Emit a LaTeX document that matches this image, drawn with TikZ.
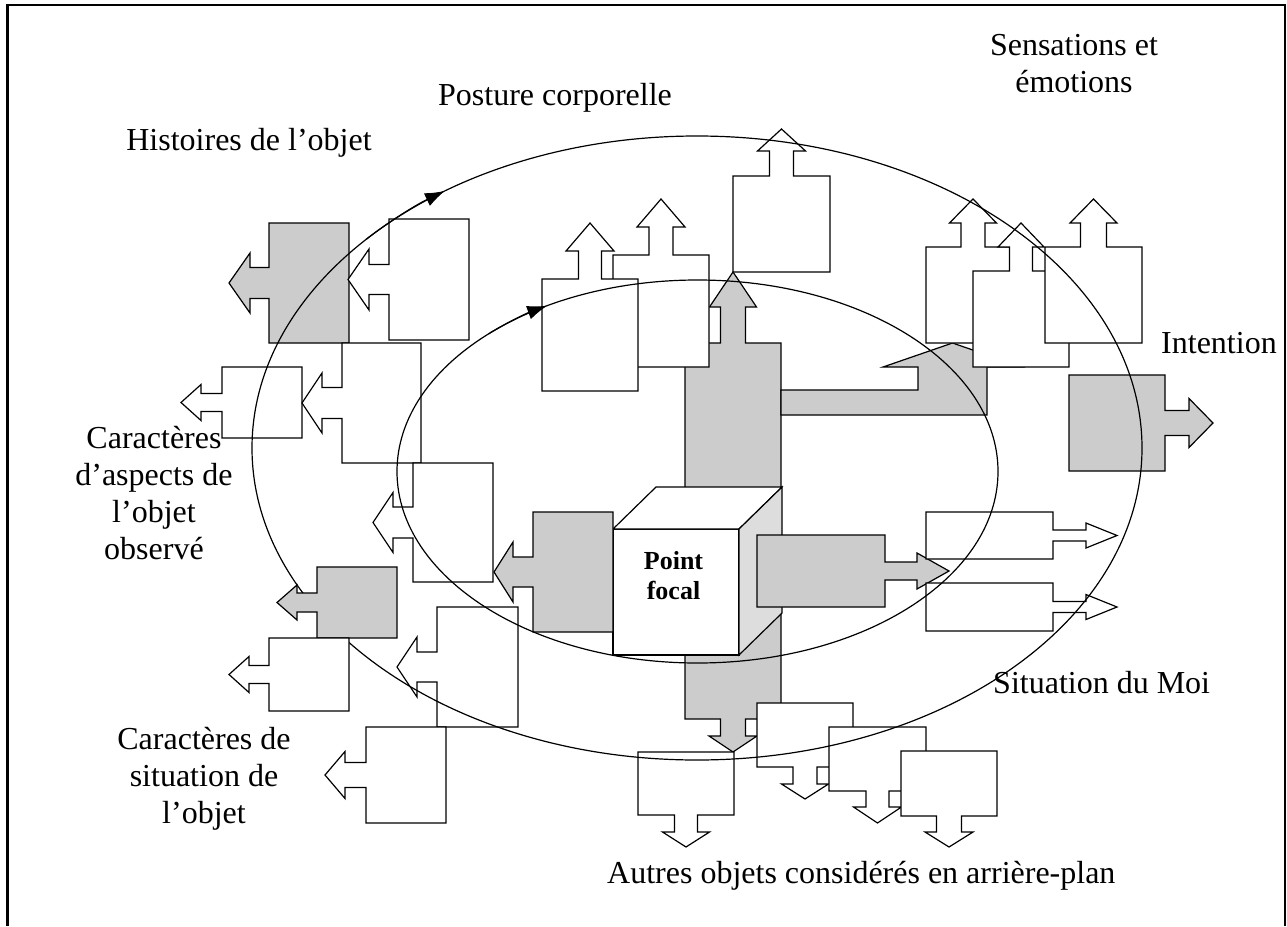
\documentclass[tikz,border=0pt]{standalone}
\usepackage{fontspec}
\setmainfont{Liberation Serif}
\usetikzlibrary{arrows.meta}

\definecolor{boxgray}{RGB}{204,204,204}
\definecolor{sidegray}{RGB}{221,221,221}

% Block arrows: #1 style, body (#2,#3)-(#4,#5), neck length #6, neck half width #7,
% head length #8, head half width #9. The arrow sits on the middle of one side.
\newcommand\blkL[9]{\path[#1] (#2,#3) -- (#4,#3) -- (#4,#5) -- (#2,#5)
  -- (#2,{(#3+#5)/2+#7}) -- ({#2-#6},{(#3+#5)/2+#7}) -- ({#2-#6},{(#3+#5)/2+#9})
  -- ({#2-#6-#8},{(#3+#5)/2}) -- ({#2-#6},{(#3+#5)/2-#9}) -- ({#2-#6},{(#3+#5)/2-#7})
  -- (#2,{(#3+#5)/2-#7}) -- cycle;}
\newcommand\blkR[9]{\path[#1] (#2,#3) -- (#4,#3)
  -- (#4,{(#3+#5)/2-#7}) -- ({#4+#6},{(#3+#5)/2-#7}) -- ({#4+#6},{(#3+#5)/2-#9})
  -- ({#4+#6+#8},{(#3+#5)/2}) -- ({#4+#6},{(#3+#5)/2+#9}) -- ({#4+#6},{(#3+#5)/2+#7})
  -- (#4,{(#3+#5)/2+#7}) -- (#4,#5) -- (#2,#5) -- cycle;}
\newcommand\blkU[9]{\path[#1] (#2,#5) -- (#2,#3)
  -- ({(#2+#4)/2-#7},#3) -- ({(#2+#4)/2-#7},{#3-#6}) -- ({(#2+#4)/2-#9},{#3-#6})
  -- ({(#2+#4)/2},{#3-#6-#8}) -- ({(#2+#4)/2+#9},{#3-#6}) -- ({(#2+#4)/2+#7},{#3-#6})
  -- ({(#2+#4)/2+#7},#3) -- (#4,#3) -- (#4,#5) -- cycle;}
\newcommand\blkD[9]{\path[#1] (#2,#3) -- (#4,#3) -- (#4,#5)
  -- ({(#2+#4)/2+#7},#5) -- ({(#2+#4)/2+#7},{#5+#6}) -- ({(#2+#4)/2+#9},{#5+#6})
  -- ({(#2+#4)/2},{#5+#6+#8}) -- ({(#2+#4)/2-#9},{#5+#6}) -- ({(#2+#4)/2-#7},{#5+#6})
  -- ({(#2+#4)/2-#7},#5) -- (#2,#5) -- cycle;}

\tikzset{
  shp/.style={draw=black, line width=1.2pt, line join=miter},
  wbox/.style={shp, fill=white},
  gbox/.style={shp, fill=boxgray},
  orbit/.style={draw=black, line width=1.2pt},
  orbittip/.style={orbit, -{Latex[length=20pt,width=14pt]}},
  lbl/.style={font=\fontsize{32}{37}\selectfont, inner sep=0pt, anchor=base},
  lblw/.style={lbl, anchor=base west},
  focallbl/.style={font=\fontsize{26}{30}\selectfont\bfseries, inner sep=0pt, anchor=base},
}

\begin{document}
\begin{tikzpicture}[x=1pt,y=-1pt]
\useasboundingbox (0,0) rectangle (1287,926);
\fill[white] (0,0) rectangle (1287,926);

% page frame, open at the bottom
\draw[line width=2.5pt] (7.5,926) -- (7.5,5) -- (1285,5) -- (1285,926);

% central vertical gray double arrow
\path[gbox] (685,343) -- (720.5,343) -- (720.5,307) -- (709.5,307) -- (733,272)
  -- (756.5,307) -- (745.5,307) -- (745.5,343) -- (781,343) -- (781,719)
  -- (745.5,719) -- (745.5,736) -- (757,736) -- (733,752) -- (709,736)
  -- (720.5,736) -- (720.5,719) -- (685,719) -- cycle;

% bent-up gray arrow towards the sensations
\path[gbox] (781,390) -- (918,390) -- (918,367) -- (883,367) -- (952.5,343)
  -- (1022,367) -- (987,367) -- (987,415) -- (781,415) -- cycle;

% posture corporelle
\blkU{wbox}{733}{176}{830}{272}{25}{12}{22}{24}
\blkU{wbox}{613}{255}{709}{367}{28}{12}{28}{24}
\blkU{wbox}{542}{279}{638}{391}{28}{11.5}{28}{24}

% sensations et emotions
\blkU{wbox}{926}{247}{1020}{343}{24}{12}{24}{23.5}
\blkU{wbox}{973}{271}{1069}{367}{24}{11.5}{24}{23}
\blkU{wbox}{1045}{247}{1142}{343}{24}{13}{24}{23.5}

% intention
\blkR{gbox}{1069}{375}{1165}{471}{24}{12.5}{24}{24.5}

% focal cube
\path[wbox] (613,529) rectangle (739,655);
\path[wbox] (613,529) -- (656,487) -- (782,487) -- (739,529) -- cycle;
\path[shp, fill=sidegray] (739,529) -- (782,487) -- (782,613) -- (739,655) -- cycle;
\node[focallbl] (fp1) at (673.5,569) {Point};
\node[focallbl] (fp2) at (673.5,599) {focal};

% gray arrows leaving the cube
\blkR{gbox}{757}{535}{885}{607}{32}{9}{32}{18}
\blkL{gbox}{533}{512}{613}{632}{20}{15}{19}{30}

% situation du Moi
\blkR{wbox}{926}{512}{1053}{559}{33}{5.5}{31}{12.5}
\blkR{wbox}{926}{583}{1053}{631}{33}{5.5}{31}{12.5}

% background objects
\blkD{wbox}{638}{752}{734}{815}{17}{11.5}{15}{23.5}
\blkD{wbox}{757}{703}{853}{767}{17}{12}{15}{23.5}
\blkD{wbox}{829}{727}{926}{791}{16}{11.5}{16}{24}
\blkD{wbox}{901}{751}{997}{816}{16}{12.5}{15}{24}

% histories and aspects of the object
\blkL{gbox}{269}{223}{349}{343}{19}{15.5}{21}{30}
\blkL{wbox}{389}{219}{469}{340}{20}{15}{21}{30.5}
\blkL{wbox}{222}{367}{302}{438}{21}{9}{20}{18}
\blkL{wbox}{342}{343}{421}{463}{20}{15.5}{20}{30}
\blkL{wbox}{413}{463}{493}{582}{20}{15.5}{20}{30}
\blkL{wbox}{437}{607}{518}{727}{20}{15}{20}{30}
\blkL{wbox}{366}{727}{446}{823}{21}{12.5}{20}{23.5}

% the two orbits
\draw[orbit] (697,448) ellipse [x radius=445, y radius=312];
\draw[orbit] (697.5,471.5) ellipse [x radius=300.5, y radius=191.5];
\draw[orbittip] (697,448) ++(222:445 and 312)
  arc[start angle=222, end angle=235.5, x radius=445, y radius=312];
\draw[orbittip] (697.5,471.5) ++(226:300.5 and 191.5)
  arc[start angle=226, end angle=240, x radius=300.5, y radius=191.5];

% situation of the object
\blkL{gbox}{317}{567}{397}{638}{20}{9.5}{20}{17.5}
\blkL{wbox}{269}{638}{349}{711}{20}{9}{20}{18}

% labels
\node[lbl] (posture) at (555,105) {Posture corporelle};
\node[lbl] (sens1) at (1074,55) {Sensations et};
\node[lbl] (sens2) at (1074,92) {émotions};
\node[lbl] (hist) at (249,150) {Histoires de l'objet};
\node[lblw] (intent) at (1161,353) {Intention};
\node[lbl] (asp1) at (154,448) {Caractères};
\node[lbl] (asp2) at (154,485) {d'aspects de};
\node[lbl] (asp3) at (154,522) {l'objet};
\node[lbl] (asp4) at (154,559) {observé};
\node[lbl] (sit1) at (204,749) {Caractères de};
\node[lbl] (sit2) at (204,786) {situation de};
\node[lbl] (sit3) at (204,823) {l'objet};
\node[lblw] (moi) at (993,693) {Situation du Moi};
\node[lblw] (autres) at (607,883) {Autres objets considérés en arrière-plan};
\end{tikzpicture}
\end{document}
